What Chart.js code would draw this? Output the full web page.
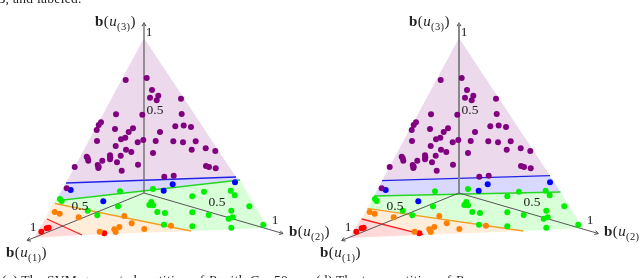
<!DOCTYPE html>
<html>
<head>
<meta charset="utf-8">
<script src="https://cdn.jsdelivr.net/npm/chart.js@4"></script>
<style>
html, body { margin: 0; padding: 0; background: #fff; overflow: hidden; }
#wrap { position: relative; width: 640px; height: 278px; overflow: hidden; font-family: "Liberation Serif", serif; color: #222; }
#wrap canvas { display: block; }
#wrap span { position: absolute; white-space: nowrap; line-height: 1; }
.tick { font-size: 13.5px; transform: translate(-50%, -50%); }
.name { font-size: 15px; letter-spacing: .4px; }
.name sub { font-size: 10.5px; line-height: 0; }
.cap { font-size: 13.5px; letter-spacing: .3px; }
</style>
</head>
<body>
<div id="wrap">
  <canvas id="chart" width="640" height="278"></canvas>
  <span class="cap" style="left:-3px;top:-8px"><i>B</i>, and labeled.</span>
  <span class="tick" style="left:149px;top:32px">1</span>
  <span class="tick" style="left:155px;top:110px">0.5</span>
  <span class="tick" style="left:80px;top:206px">0.5</span>
  <span class="tick" style="left:33px;top:227px">1</span>
  <span class="tick" style="left:217px;top:202px">0.5</span>
  <span class="tick" style="left:275px;top:220px">1</span>
  <span class="tick" style="left:464px;top:32px">1</span>
  <span class="tick" style="left:470px;top:110px">0.5</span>
  <span class="tick" style="left:395px;top:206px">0.5</span>
  <span class="tick" style="left:348px;top:227px">1</span>
  <span class="tick" style="left:532px;top:202px">0.5</span>
  <span class="tick" style="left:590px;top:220px">1</span>
  <span class="name" style="left:95px;top:14px"><b>b</b>(<i>u</i><sub>(3)</sub>)</span>
  <span class="name" style="left:289px;top:224px"><b>b</b>(<i>u</i><sub>(2)</sub>)</span>
  <span class="name" style="left:6px;top:245px"><b>b</b>(<i>u</i><sub>(1)</sub>)</span>
  <span class="name" style="left:409px;top:14px"><b>b</b>(<i>u</i><sub>(3)</sub>)</span>
  <span class="name" style="left:604px;top:224px"><b>b</b>(<i>u</i><sub>(2)</sub>)</span>
  <span class="name" style="left:320px;top:245px"><b>b</b>(<i>u</i><sub>(1)</sub>)</span>
  <span class="cap" style="left:2px;top:273px">(a) The SVM-generated partition of <i>B</i> with <i>C</i> = 50</span>
  <span class="cap" style="left:316px;top:273px">(d) The true partition of <i>B</i></span>
</div>
<script>
// second triangle is the same cloud shifted along x
const panelShift = 315;

const purplePts = [
  [125.7,80],[146.7,78],[152,90],[158.3,95.7],[150,97.7],[156.7,100.3],[181,98.7],
  [116,114.3],[142.3,114.7],[181.7,114],[101,122.3],[98.7,125],[96.7,130],[115,129],
  [133,128.3],[128.7,132],[160,132],[175.3,126.3],[183.7,125.5],[191,127],
  [97,141],[121,139.3],[125.3,137.7],[137.7,142.3],[143.3,140],[155.7,141],[173.3,141.3],
  [183,142.3],[195.7,141.3],[115.7,146],[126,149.7],[131.3,152],[120.7,155.7],
  [110,155.3],[110.3,157.3],[110,159.3],[153,153],[191.7,149.7],[205.7,148.3],[215.3,151],
  [86.7,156.7],[87.7,158.3],[88.3,160.7],[102.3,160.7],[117,162.3],[74.7,167],
  [97.7,165],[98.7,166.7],[98.3,168],[138,164.7],[206,166],[209,167],[215.7,168.3],
  [121.7,170.7],[164.3,176.7],[173.7,175.7],[66.7,188.3]
];
const bluePts = [[70.7,190],[103.3,201.3],[163.7,190.7],[172.7,184.3],[235,182.3]];
const greenPts = [
  [120,191.3],[153,189],[60,199],[61.7,201],[87.7,210.7],[97.3,215.3],[118,206.3],
  [149.3,205],[151.3,202],[153,205.3],[157.3,212],[165,213],[164,224.7],[192.3,196.3],
  [204,191.7],[230.7,190.7],[234.7,195.3],[249.3,206.3],[231.3,210.7],[192.3,212.3],
  [208.7,215],[228.7,218.7],[232.7,217.3],[192.3,226.3],[231.3,227.7],[263.3,224.7]
];
const orangePts = [
  [54.7,212],[59.7,213.7],[78.7,217.3],[124.3,216],[131.7,223.3],[119.3,227],[144.3,229],
  [171,225.7],[99.7,231.7],[114.3,229.3],[115.7,232]
];
const redPts = [[41.3,231.7],[46.7,228.3],[48.7,227.7],[104.3,233.3]];

const leftRegions = {
  purple: [[144,38],[236,177],[66,183]],
  blue: [[66,183],[236,177],[240,180],[56,200]],
  green: [[56,200],[240,180],[268,228],[191,231],[53,203]],
  orange: [[53,203],[191,231],[82,235],[45,219]],
  red: [[45,219],[82,235],[34,238]]
};
const rightRegions = {
  purple: [[459,38],[550,175.7],[382,180.7]],
  blue: [[382,180.7],[550,175.7],[560.5,192],[374,196]],
  green: [[374,196],[560.5,192],[583,228],[523.3,231],[367.3,208.3]],
  orange: [[367.3,208.3],[523.3,231],[423.3,234.7],[361,219]],
  red: [[361,219],[423.3,234.7],[349,238]]
};
const leftLines = {
  blue: [[66,183],[236,177]],
  green: [[63,200],[240,180]],
  orange: [[55,203.5],[191,231]],
  red: [[47,219],[82,235]]
};
const rightLines = {
  blue: [[382,180.7],[550,175.7]],
  green: [[374,196],[560.5,192]],
  orange: [[367.3,208.3],[523.3,231]],
  red: [[361.7,219],[423.3,234.7]]
};
const axesLeft = { origin: [144,193], u1: [27,240.5], u2: [283,233.5], u3: [144,22.7] };
const axesRight = { origin: [459,193], u1: [341.7,240.5], u2: [598.3,233.5], u3: [459,22.7] };

const fills = {
  purple: "rgba(128,0,128,0.15)", blue: "rgba(0,0,255,0.15)", green: "rgba(0,255,0,0.15)",
  orange: "rgba(255,128,0,0.15)", red: "rgba(255,0,0,0.15)"
};
const lineColors = { blue: "#2222e6", green: "#22d622", orange: "#f0a020", red: "#f02222" };
const dotColors = { purple: "#800080", blue: "#0000ff", green: "#00ee00", orange: "#ff8000", red: "#ff0000" };

const toXY = p => ({ x: p[0], y: p[1] });
const datasets = [];

function addRegions(regions) {
  for (const name of Object.keys(regions)) {
    const pts = regions[name].map(toXY);
    pts.push(pts[0]);
    datasets.push({ type: "line", data: pts, fill: "shape", backgroundColor: fills[name], borderColor: "transparent", borderWidth: 1, pointRadius: 0, tension: 0, order: 5 });
  }
}
function addBoundaries(lines) {
  for (const name of Object.keys(lines)) {
    datasets.push({ type: "line", data: lines[name].map(toXY), fill: false, borderColor: lineColors[name], borderWidth: 1.3, pointRadius: 0, order: 4 });
  }
}
function addAxes(ax, color, vWidth) {
  for (const t of ["u1", "u2", "u3"]) {
    const a = ax.origin, b = ax[t];
    const dx = a[0] - b[0], dy = a[1] - b[1], len = Math.hypot(dx, dy);
    const ux = dx / len, uy = dy / len;
    const head = [
      [b[0] + ux * 3.5 - uy * 2, b[1] + uy * 3.5 + ux * 2],
      b,
      [b[0] + ux * 3.5 + uy * 2, b[1] + uy * 3.5 - ux * 2]
    ];
    const isV = t === "u3";
    datasets.push({ type: "line", data: [a, b].map(toXY), fill: false, borderColor: isV ? color : "#555", borderWidth: isV ? vWidth : 1, pointRadius: 0, order: 3 });
    datasets.push({ type: "line", data: head.map(toXY), fill: false, borderColor: "#444", borderWidth: 1, pointRadius: 0, order: 3 });
  }
}
function addDots(shift) {
  const groups = { purple: purplePts, blue: bluePts, green: greenPts, orange: orangePts, red: redPts };
  for (const name of Object.keys(groups)) {
    datasets.push({
      type: "scatter",
      data: groups[name].map(p => ({ x: p[0] + shift, y: p[1] })),
      backgroundColor: dotColors[name], borderWidth: 0, pointRadius: 3, order: 1
    });
  }
}

addRegions(leftRegions);
addRegions(rightRegions);
addBoundaries(leftLines);
addBoundaries(rightLines);
addAxes(axesLeft, "#666", 1.3);
addAxes(axesRight, "#888", 2);
addDots(0);
addDots(panelShift);

new Chart(document.getElementById("chart"), {
  type: "line",
  data: { datasets },
  options: {
    responsive: false,
    animation: false,
    layout: { padding: 0, autoPadding: false },
    plugins: { legend: { display: false }, tooltip: { enabled: false }, filler: { propagate: false } },
    scales: {
      x: { type: "linear", display: false, min: 0, max: 640 },
      y: { type: "linear", display: false, min: 0, max: 278, reverse: true }
    }
  }
});
</script>
</body>
</html>
